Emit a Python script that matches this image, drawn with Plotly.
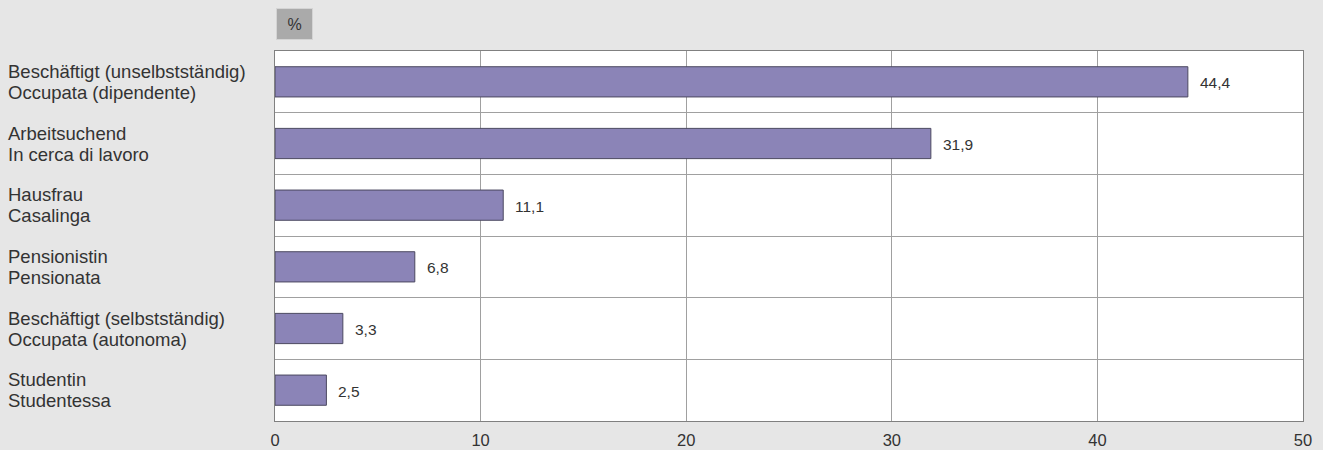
import plotly.graph_objects as go

categories = [
    ["Beschäftigt (unselbstständig)", "Occupata (dipendente)"],
    ["Arbeitsuchend", "In cerca di lavoro"],
    ["Hausfrau", "Casalinga"],
    ["Pensionistin", "Pensionata"],
    ["Beschäftigt (selbstständig)", "Occupata (autonoma)"],
    ["Studentin", "Studentessa"],
]
values = [44.4, 31.9, 11.1, 6.8, 3.3, 2.5]
x_ticks = [0, 10, 20, 30, 40, 50]

FONT = "Liberation Sans, Arial, sans-serif"
BG = "#e6e6e6"
TXT = "#333333"
positions = list(range(len(categories)))
labels = [f"{v:.1f}".replace(".", ",") for v in values]

fig = go.Figure()
fig.add_trace(go.Bar(
    x=values,
    y=positions,
    orientation="h",
    width=0.49,
    marker=dict(color="#8b84b7", line=dict(color="#4b4860", width=1)),
    hoverinfo="skip",
))

annotations = []
for p, lines in zip(positions, categories):
    for k, line in enumerate(lines):
        annotations.append(dict(
            x=-0.2597, xref="paper", y=p, yref="y",
            xshift=-2, yshift=10.5 - 21 * k,
            text=line, showarrow=False, xanchor="left", yanchor="middle", align="left",
            font=dict(family=FONT, size=18.5, color=TXT),
        ))
for p, v, t in zip(positions, values, labels):
    annotations.append(dict(
        x=v, xref="x", y=p, yref="y", xshift=10, yshift=-1,
        text=t, showarrow=False, xanchor="left", yanchor="middle",
        font=dict(family=FONT, size=15.5, color=TXT),
    ))
annotations.append(dict(
    x=0.001, xref="paper", y=1, yref="paper", yshift=11,
    text="%", showarrow=False, xanchor="left", yanchor="bottom",
    width=33, height=28, bgcolor="#aaaaaa", bordercolor="#d4d4d4", borderwidth=1,
    font=dict(family=FONT, size=16, color=TXT),
))

fig.update_layout(
    width=1323, height=450,
    margin=dict(l=275, r=20, t=51, b=29, autoexpand=False),
    paper_bgcolor=BG, plot_bgcolor="white",
    showlegend=False,
    annotations=annotations,
    xaxis=dict(
        range=[0, 50], tickvals=x_ticks, ticktext=[str(t) for t in x_ticks],
        showgrid=True, gridcolor="#a0a0a0", gridwidth=1,
        showline=True, linecolor="#808080", linewidth=1, mirror=True,
        ticks="outside", ticklen=4, tickcolor=BG,
        tickfont=dict(family=FONT, size=16.5, color=TXT),
        zeroline=False, automargin=False,
    ),
    yaxis=dict(
        range=[len(categories) - 0.5, -0.5],
        tickvals=[p + 0.5 for p in positions[:-1]],
        showticklabels=False, showgrid=True, gridcolor="#a0a0a0", gridwidth=1,
        showline=True, linecolor="#808080", linewidth=1, mirror=True,
        zeroline=False, ticks="", automargin=False,
    ),
)

fig.write_html(
    "out.html",
    config={"displayModeBar": False},
    post_script="document.body.style.margin='0';document.body.style.background='#e6e6e6';",
)
